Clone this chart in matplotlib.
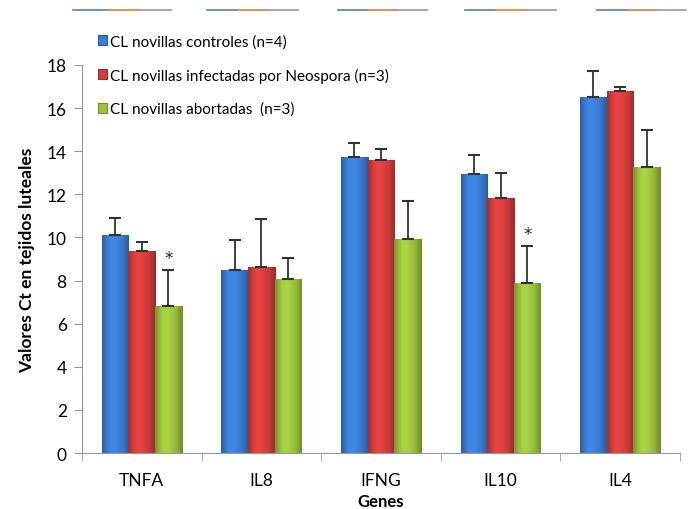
import matplotlib.pyplot as plt
import numpy as np
from matplotlib.lines import Line2D
from matplotlib.colors import to_rgb

genes = ['TNFA', 'IL8', 'IFNG', 'IL10', 'IL4']
series = ['CL novillas controles (n=4)',
          'CL novillas infectadas por Neospora (n=3)',
          'CL novillas abortadas  (n=3)']
controles = [10.1, 8.5, 13.75, 12.95, 16.5]
controles_err = [0.8, 1.4, 0.65, 0.87, 1.2]
infectadas = [9.35, 8.65, 13.6, 11.85, 16.8]
infectadas_err = [0.45, 2.2, 0.5, 1.15, 0.2]
abortadas = [6.8, 8.05, 9.95, 7.9, 13.25]
abortadas_err = [1.7, 1.0, 1.75, 1.7, 1.72]
signif = [True, False, False, True, False]

colors = ['#3b7dd3', '#d53d3d', '#9cc23e']
edges = ['#2a5d9c', '#9c2b2b', '#6f8f2b']

plt.rcParams['font.family'] = ['Lato', 'DejaVu Sans']

fig = plt.figure(figsize=(6.98, 5.10), dpi=100)
ax = fig.add_axes([0.1175, 0.1098, 0.8565, 0.7608])

x = np.arange(len(genes))
w = 0.223
vals = [controles, infectadas, abortadas]
errs = [controles_err, infectadas_err, abortadas_err]
handles = []
prof = np.array([0.78, 0.92, 1.02, 1.08, 1.1, 1.08, 1.04, 1.0, 0.95, 0.88, 0.75])
for i in range(3):
    pos = x + (i - 1) * w
    b = ax.bar(pos, vals[i], w, color=colors[i], edgecolor=edges[i], linewidth=0.8, zorder=2)
    base = np.array(to_rgb(colors[i]))
    grad = np.clip(prof[:, None] * base[None, :], 0, 1)[None, :, :]
    for p in b.patches:
        x0, y0 = p.get_x(), p.get_y()
        im = ax.imshow(grad, extent=[x0, x0 + p.get_width(), y0, y0 + p.get_height()],
                       aspect='auto', zorder=2.1, interpolation='bicubic')
        im.set_clip_path(p)
    ax.errorbar(pos, vals[i], yerr=[np.zeros(5), errs[i]], fmt='none', ecolor='#333333',
                elinewidth=1.3, capsize=4, capthick=1.5, zorder=3)
    handles.append(b)

for i, s in enumerate(signif):
    if s:
        ax.text(x[i] + w, abortadas[i] + abortadas_err[i] + 0.15, '*', ha='center', va='bottom',
                fontsize=12, color='#222222', family='DejaVu Sans')

ax.set_xlim(-0.5, len(genes) - 0.5)
ax.set_ylim(0, 18)
ax.set_yticks(range(0, 19, 2))
ax.set_xticks(x)
ax.set_xticklabels(genes, fontsize=12.5)
ax.set_xticks(np.arange(-0.5, len(genes)), minor=True)
ax.tick_params(axis='x', which='major', length=0, pad=14)
ax.tick_params(axis='x', which='minor', length=6, color='#999999', direction='out')
ax.tick_params(axis='y', length=6, color='#999999', labelsize=12.5, pad=5)
for sp in ['top', 'right']:
    ax.spines[sp].set_visible(False)
ax.spines['left'].set_color('#999999')
ax.spines['bottom'].set_color('#999999')

ax.set_ylabel('Valores Ct en tejidos luteales', fontsize=12.5, fontweight='bold', labelpad=8)
ax.set_xlabel('Genes', fontsize=12, fontweight='bold', labelpad=3)

leg = fig.legend(handles, series, loc='upper left', bbox_to_anchor=(0.12, 0.958),
                 frameon=False, fontsize=11, handlelength=0.6, handleheight=0.6,
                 handletextpad=0.25, labelspacing=1.25)

# remnants of the chart cropped above
segs = [(73, 171), (207, 298), (338, 427), (465, 556), (597, 686)]
for a, b in segs:
    t = (b - a) / 3
    for k, c in enumerate(['#4f81bd', '#e07b39', '#999999']):
        fig.add_artist(Line2D([(a + k * t) / 698, (a + (k + 1) * t) / 698], [1 - 11 / 510] * 2,
                              color=c, lw=1.2, transform=fig.transFigure))

fig.savefig('out.png', dpi=100)
